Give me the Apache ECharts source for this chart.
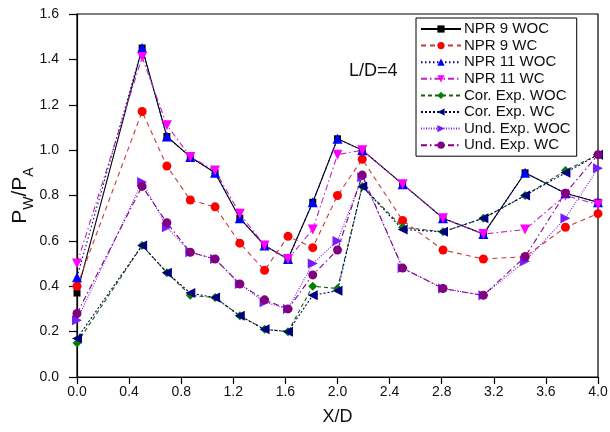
<!DOCTYPE html>
<html>
<head>
<meta charset="utf-8">
<script src="https://cdn.jsdelivr.net/npm/echarts@6/dist/echarts.min.js"></script>
<style>
  html, body { margin: 0; padding: 0; background: #fff; }
  #chart { width: 610px; height: 432px; }
</style>
</head>
<body>
<div id="chart"></div>
<script>
// Axial stations along the wall
const xPos = [0, 0.5, 0.69, 0.87, 1.06, 1.25, 1.44, 1.62, 1.81, 2.0, 2.19, 2.5, 2.81, 3.12, 3.44, 3.75, 4.0];

// Wall-to-ambient pressure ratio for each case
const npr9Woc   = [0.37, 1.45, 1.06, 0.97, 0.90, 0.70, 0.58, 0.52, 0.77, 1.05, 1.00, 0.85, 0.70, 0.63, 0.90, 0.81, 0.77];
const npr9Wc    = [0.40, 1.17, 0.93, 0.78, 0.75, 0.59, 0.47, 0.62, 0.57, 0.80, 0.96, 0.69, 0.56, 0.52, 0.53, 0.66, 0.72];
const npr11Woc  = [0.44, 1.45, 1.06, 0.97, 0.90, 0.70, 0.58, 0.52, 0.77, 1.05, 1.00, 0.85, 0.70, 0.63, 0.90, 0.81, 0.77];
const npr11Wc   = [0.50, 1.41, 1.11, 0.97, 0.91, 0.72, 0.58, 0.52, 0.65, 0.98, 1.00, 0.85, 0.70, 0.63, 0.65, 0.80, 0.76];
const corExpWoc = [0.15, 0.58, 0.46, 0.36, 0.35, 0.27, 0.21, 0.20, 0.40, 0.39, 0.84, 0.66, 0.64, 0.70, 0.80, 0.91, 0.98];
const corExpWc  = [0.17, 0.58, 0.46, 0.37, 0.35, 0.27, 0.21, 0.20, 0.36, 0.38, 0.84, 0.65, 0.64, 0.70, 0.80, 0.90, 0.98];
const undExpWoc = [0.25, 0.86, 0.66, 0.55, 0.52, 0.41, 0.33, 0.30, 0.50, 0.60, 0.88, 0.48, 0.39, 0.36, 0.51, 0.70, 0.92];
const undExpWc  = [0.28, 0.84, 0.68, 0.55, 0.52, 0.41, 0.34, 0.30, 0.45, 0.56, 0.89, 0.48, 0.39, 0.36, 0.53, 0.81, 0.98];

const seriesNames = ['NPR 9 WOC', 'NPR 9 WC', 'NPR 11 WOC', 'NPR 11 WC',
                     'Cor. Exp. WOC', 'Cor. Exp. WC', 'Und. Exp. WOC', 'Und. Exp. WC'];
const annotation = 'L/D=4';

const FONT = '"Liberation Sans", Arial, sans-serif';

function pairs(ys) { return xPos.map((x, i) => [x, ys[i]]); }

function line(name, ys, marker, markerColor, lineColor, dash, rotate, size) {
  return {
    name: name,
    type: 'line',
    data: pairs(ys),
    symbol: marker,
    symbolSize: size || 9,
    symbolRotate: rotate || 0,
    itemStyle: { color: markerColor },
    lineStyle: { color: lineColor, width: 1.1, type: dash },
    emphasis: { disabled: true },
    animation: false,
    z: 2
  };
}

const chart = echarts.init(document.getElementById('chart'), null, { renderer: 'canvas' });

chart.setOption({
  backgroundColor: '#fff',
  animation: false,
  grid: {
    left: 77, right: 12, top: 14, bottom: 55,
    outerBoundsMode: 'none', containLabel: false,
    show: true, borderColor: '#000', borderWidth: 1.2
  },
  xAxis: {
    type: 'value', min: 0, max: 4, interval: 0.4,
    name: 'X/D', nameLocation: 'middle', nameGap: 31,
    nameTextStyle: { fontFamily: FONT, fontSize: 18, color: '#111' },
    axisLine: { show: true, lineStyle: { color: '#000', width: 1.2 } },
    axisTick: { show: true, inside: false, length: 7, lineStyle: { color: '#000', width: 1.2 } },
    axisLabel: { fontFamily: FONT, fontSize: 14, color: '#111', margin: 8, formatter: v => v.toFixed(1) },
    splitLine: { show: false }
  },
  yAxis: {
    type: 'value', min: 0, max: 1.6, interval: 0.2,
    name: '{n|P}{s|W}{n|/P}{s|A}', nameLocation: 'middle', nameGap: 46, nameRotate: 90,
    nameMoveOverlap: false,
    nameTextStyle: {
      fontFamily: FONT, color: '#111',
      rich: {
        n: { fontFamily: FONT, fontSize: 21, color: '#111', verticalAlign: 'bottom', lineHeight: 26 },
        s: { fontFamily: FONT, fontSize: 14, color: '#111', verticalAlign: 'bottom', lineHeight: 16, padding: [0, 0, -5, 0] }
      }
    },
    axisLine: { show: true, lineStyle: { color: '#000', width: 1.2 } },
    axisTick: { show: true, inside: false, length: 8, lineStyle: { color: '#000', width: 1.2 } },
    axisLabel: { fontFamily: FONT, fontSize: 14, color: '#111', margin: 18, formatter: v => v.toFixed(1) },
    splitLine: { show: false }
  },
  legend: {
    show: true,
    orient: 'vertical',
    left: 416, top: 18,
    itemWidth: 40, itemHeight: 9, itemGap: 0.6,
    padding: [3, 6, 3, 4],
    borderColor: '#000', borderWidth: 1,
    backgroundColor: '#fff',
    textStyle: { fontFamily: FONT, fontSize: 15, lineHeight: 16, color: '#111', padding: [0, 0, 0, -2] },
    data: seriesNames,
    z: 10
  },
  graphic: [{
    type: 'text', left: 349, top: 62, z: 10,
    style: { text: annotation, font: '18px ' + FONT, fill: '#111' }
  }],
  series: [
    line(seriesNames[0], npr9Woc,   'rect',     '#000000', '#000000', 'solid', 0, 7),
    line(seriesNames[1], npr9Wc,    'circle',   '#ff0000', '#c83a3a', [5, 4]),
    line(seriesNames[2], npr11Woc,  'triangle', '#0000ff', '#000080', [1.5, 2.5], 0, 10),
    line(seriesNames[3], npr11Wc,   'triangle', '#ff00ff', '#c020c0', [6, 3, 1.5, 3], 180, 10),
    line(seriesNames[4], corExpWoc, 'diamond',  '#008000', '#1a5a1a', [4, 3]),
    line(seriesNames[5], corExpWc,  'triangle', '#000080', '#000050', [2, 2], 90, 10),
    line(seriesNames[6], undExpWoc, 'triangle', '#7a1aff', '#7a1aff', [1, 1.5], -90, 10),
    line(seriesNames[7], undExpWc,  'circle',   '#800080', '#800080', [6, 3, 1.5, 3])
  ]
});
</script>
</body>
</html>
